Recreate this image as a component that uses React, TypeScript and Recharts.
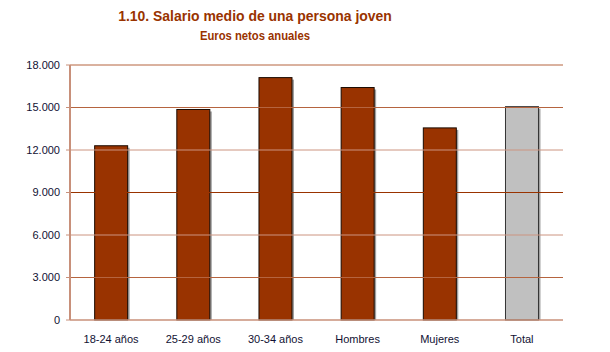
import React from "react";
import { BarChart, Bar, XAxis, YAxis, ReferenceLine, Cell } from "recharts";

const categories = ["18-24 años", "25-29 años", "30-34 años", "Hombres", "Mujeres", "Total"];
const salario = [12300, 14860, 17110, 16410, 13560, 15060];
const yTicks = [0, 3000, 6000, 9000, 12000, 15000, 18000];

const gridColors: Record<number, string> = {
  3000: "#b5643f",
  6000: "#cc9480",
  9000: "#993300",
  12000: "#cc9480",
  15000: "#b5643f",
  18000: "#b5643f",
};

const data = categories.map((name, i) => ({ name, value: salario[i] }));

const font = '"Liberation Sans", Arial, sans-serif';

const formatMiles = (v: number) =>
  v === 0 ? "0" : v.toString().replace(/\B(?=(\d{3})+(?!\d))/g, ".");

function ShadowBar(props: any) {
  const { x, y, width, height, fill, index } = props;
  if (!height) return null;
  const isTotal = categories[index] === "Total";
  return (
    <g>
      <rect x={x + 2} y={y + 2} width={width} height={height - 2} fill="#a0a0a0" />
      <rect
        x={x}
        y={y}
        width={width}
        height={height}
        fill={fill}
        stroke={isTotal ? "#333333" : "#1a0a00"}
        strokeWidth={1}
      />
    </g>
  );
}

const titleStyle: React.CSSProperties = {
  position: "absolute",
  left: 0,
  width: 510,
  textAlign: "center",
  color: "#993300",
  fontWeight: "bold",
  whiteSpace: "nowrap",
  transform: "scaleX(0.9)",
  transformOrigin: "255px 0",
};

export default function App() {
  return (
    <div
      style={{
        position: "absolute",
        left: 0,
        top: 0,
        width: 610,
        height: 352,
        background: "#fff",
        fontFamily: font,
      }}
    >
      <div style={{ ...titleStyle, top: 7, fontSize: 15.5, lineHeight: "18px" }}>
        1.10. Salario medio de una persona joven
      </div>
      <div style={{ ...titleStyle, top: 29, fontSize: 12.5, lineHeight: "14px" }}>
        Euros netos anuales
      </div>
      <div style={{ position: "absolute", left: 0, top: 0 }}>
        <BarChart
          width={610}
          height={352}
          data={data}
          margin={{ top: 65, right: 47, bottom: 0, left: 0 }}
          barCategoryGap="30%"
        >
          {yTicks
            .filter((t) => t > 0)
            .map((t) => (
              <ReferenceLine key={t} y={t} stroke={gridColors[t]} strokeWidth={1} />
            ))}
          <XAxis
            dataKey="name"
            height={32}
            tickLine={false}
            tickSize={0}
            tickMargin={15}
            axisLine={{ stroke: "#c8907a", strokeWidth: 1.5 }}
            tick={{ fill: "#111133", fontSize: 11, fontFamily: font }}
            interval={0}
          />
          <YAxis
            width={70}
            domain={[0, 18000]}
            ticks={yTicks}
            tickFormatter={formatMiles}
            tickSize={4}
            tickMargin={6}
            axisLine={{ stroke: "#c8907a", strokeWidth: 2 }}
            tickLine={{ stroke: "#c8907a" }}
            tick={{ fill: "#111133", fontSize: 11, fontFamily: font }}
          />
          <Bar dataKey="value" shape={<ShadowBar />} isAnimationActive={false}>
            {data.map((d) => (
              <Cell key={d.name} fill={d.name === "Total" ? "#c0c0c0" : "#993300"} />
            ))}
          </Bar>
        </BarChart>
      </div>
    </div>
  );
}
